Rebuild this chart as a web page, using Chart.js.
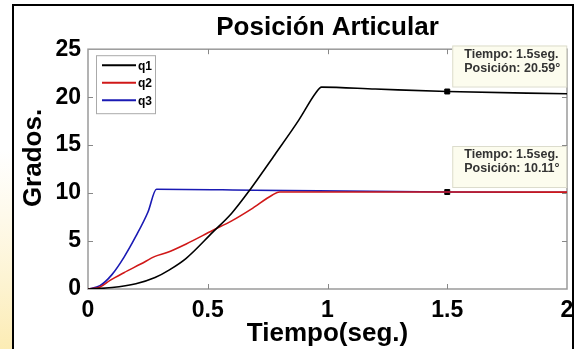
<!DOCTYPE html>
<html>
<head>
<meta charset="utf-8">
<script src="https://cdn.jsdelivr.net/npm/chart.js@4/dist/chart.umd.min.js"></script>
<style>
  html, body { margin: 0; padding: 0; background: #fff; }
  #wrap { width: 576px; height: 349px; }
</style>
</head>
<body>
<div id="wrap"><canvas id="pos"></canvas></div>
<script>
// --- data ---
const q1Time = [0, 0.1, 0.2, 0.28, 0.34, 0.41, 0.52, 0.6, 0.675, 0.78, 0.88, 0.95, 0.975, 1.2, 1.5, 2];
const q1Deg  = [0, 0.15, 0.55, 1.2, 2.0, 3.2, 5.9, 7.9, 10.3, 14.0, 17.6, 20.4, 21.05, 20.85, 20.59, 20.35];

const q2Time = [0, 0.05, 0.092, 0.15, 0.22, 0.28, 0.33, 0.41, 0.52, 0.6, 0.68, 0.77, 0.8, 1.5, 2];
const q2Deg  = [0, 0.2, 0.9, 1.7, 2.6, 3.4, 3.8, 4.7, 6.1, 7.1, 8.3, 9.8, 10.12, 10.11, 10.1];

const q3Time = [0, 0.05, 0.1, 0.15, 0.2, 0.25, 0.286, 0.7, 1.5, 2];
const q3Deg  = [0, 0.35, 1.5, 3.3, 5.5, 8.0, 10.4, 10.3, 10.11, 10.08];

const tipTime = [1.5, 1.5];
const tipDeg  = [20.59, 10.11];

const xTicks = [0, 0.5, 1, 1.5, 2];
const yTicks = [0, 5, 10, 15, 20, 25];

const seriesNames  = ['q1', 'q2', 'q3'];
const seriesColors = ['#000000', '#d01818', '#1a1ab4'];

const pts = (xs, ys) => xs.map((x, i) => ({x: x, y: ys[i]}));
const FONT = 'Liberation Sans, Arial, sans-serif';

const series = [pts(q1Time, q1Deg), pts(q2Time, q2Deg), pts(q3Time, q3Deg)];
const datasets = series.map((d, i) => ({
  label: seriesNames[i],
  data: d,
  borderColor: seriesColors[i],
  borderWidth: 1.6,
  pointRadius: 0,
  cubicInterpolationMode: 'monotone',
  fill: false
}));
datasets.push({
  label: 'tips',
  data: pts(tipTime, tipDeg),
  showLine: false,
  pointStyle: 'rect',
  pointRadius: 3.5,
  pointBackgroundColor: '#000',
  pointBorderColor: '#000'
});

// page background, frame of the figure
const backdrop = {
  id: 'backdrop',
  beforeDraw(chart) {
    const c = chart.ctx;
    c.save();
    c.fillStyle = '#fff';
    c.fillRect(0, 0, chart.width, chart.height);
    const g = c.createLinearGradient(0, 150, 0, 349);
    g.addColorStop(0, 'rgba(252,240,200,0)');
    g.addColorStop(1, 'rgba(252,236,180,1)');
    c.fillStyle = g;
    c.fillRect(0, 150, 12, 199);
    c.strokeStyle = '#000';
    c.lineWidth = 2;
    c.beginPath();
    c.moveTo(13, 349); c.lineTo(13, 5); c.lineTo(573, 5); c.lineTo(573, 349);
    c.stroke();

    // y axis title
    c.translate(34, 158);
    c.rotate(-Math.PI / 2);
    c.fillStyle = '#000';
    c.font = 'bold 26px ' + FONT;
    c.textAlign = 'center';
    c.textBaseline = 'middle';
    c.fillText('Grados.', 0, 0);
    c.restore();
  }
};

// axis box with inward ticks (matlab style)
const axBox = {
  id: 'axBox',
  beforeDatasetsDraw(chart) {
    const {ctx: c, chartArea: a, scales: {x, y}} = chart;
    c.save();
    c.strokeStyle = '#9a9a9a';
    c.lineWidth = 1.5;
    c.strokeRect(a.left, a.top, a.right - a.left, a.bottom - a.top);
    c.lineWidth = 1;
    c.strokeStyle = '#888';
    c.beginPath();
    xTicks.slice(1, -1).forEach(t => {
      const px = Math.round(x.getPixelForValue(t)) + 0.5;
      c.moveTo(px, a.bottom); c.lineTo(px, a.bottom - 5);
      c.moveTo(px, a.top); c.lineTo(px, a.top + 5);
    });
    yTicks.slice(1, -1).forEach(t => {
      const py = Math.round(y.getPixelForValue(t)) + 0.5;
      c.moveTo(a.left, py); c.lineTo(a.left + 5, py);
      c.moveTo(a.right, py); c.lineTo(a.right - 5, py);
    });
    c.stroke();
    c.restore();
  },
  afterDatasetsDraw(chart) {
    const {ctx: c, chartArea: a, scales: {x, y}} = chart;
    c.save();
    // legend
    const lx = a.left + 8, ly = a.top + 6;
    c.fillStyle = '#fff';
    c.fillRect(lx, ly, 59, 58);
    c.strokeStyle = '#aaa';
    c.lineWidth = 1;
    c.strokeRect(lx + 0.5, ly + 0.5, 59, 58);
    c.font = 'bold 12px ' + FONT;
    c.textBaseline = 'middle';
    seriesNames.forEach((n, i) => {
      const ry = ly + 10 + i * 17.5;
      c.strokeStyle = seriesColors[i];
      c.lineWidth = 2;
      c.beginPath(); c.moveTo(lx + 6, ry); c.lineTo(lx + 40, ry); c.stroke();
      c.fillStyle = '#000';
      c.fillText(n, lx + 42, ry + 1);
    });
    // data tips
    tipTime.forEach((t, i) => {
      const px = x.getPixelForValue(t), py = y.getPixelForValue(tipDeg[i]);
      const bx = px + 5, by = py - 46;
      c.fillStyle = '#fcfcee';
      c.fillRect(bx, by, 114, 41);
      c.strokeStyle = '#dcdccc';
      c.lineWidth = 1;
      c.strokeRect(bx + 0.5, by + 0.5, 114, 41);
      c.fillStyle = '#333';
      c.font = 'bold 12.5px ' + FONT;
      c.textAlign = 'left';
      c.fillText('Tiempo: ' + t + 'seg.', bx + 12, by + 9);
      c.fillText('Posición: ' + tipDeg[i].toFixed(2) + '°', bx + 12, by + 23);
    });
    c.restore();
  }
};

new Chart(document.getElementById('pos'), {
  type: 'line',
  data: { datasets: datasets },
  options: {
    responsive: true,
    maintainAspectRatio: false,
    animation: false,
    layout: { padding: { left: 0, right: 9, top: 0, bottom: 0 } },
    plugins: {
      legend: { display: false },
      tooltip: { enabled: false },
      title: {
        display: true,
        fullSize: false,
        text: 'Posición Articular',
        color: '#000',
        font: { size: 26, weight: 'bold', family: FONT },
        padding: { top: 12, bottom: 6 }
      }
    },
    scales: {
      x: {
        type: 'linear',
        min: 0, max: 2,
        afterBuildTicks: s => { s.ticks = xTicks.map(v => ({value: v})); },
        afterFit: s => { s.height = 60; s.paddingLeft = 0; s.paddingRight = 0; },
        grid: { display: false, drawTicks: false },
        border: { display: false },
        ticks: {
          padding: 8,
          color: '#000',
          maxRotation: 0,
          callback: v => String(v),
          font: { size: 23, weight: 'bold', family: FONT }
        },
        title: {
          display: true,
          text: 'Tiempo(seg.)',
          color: '#000',
          font: { size: 26, weight: 'bold', family: FONT },
          padding: { top: 0, bottom: 0 }
        }
      },
      y: {
        min: 0, max: 25,
        afterBuildTicks: s => { s.ticks = yTicks.map(v => ({value: v})); },
        afterFit: s => { s.width = 88; s.paddingTop = 0; s.paddingBottom = 0; },
        grid: { display: false, drawTicks: false },
        border: { display: false },
        ticks: {
          padding: 7,
          color: '#000',
          callback: v => String(v),
          font: { size: 23, weight: 'bold', family: FONT }
        }
      }
    }
  },
  plugins: [backdrop, axBox]
});
</script>
</body>
</html>
